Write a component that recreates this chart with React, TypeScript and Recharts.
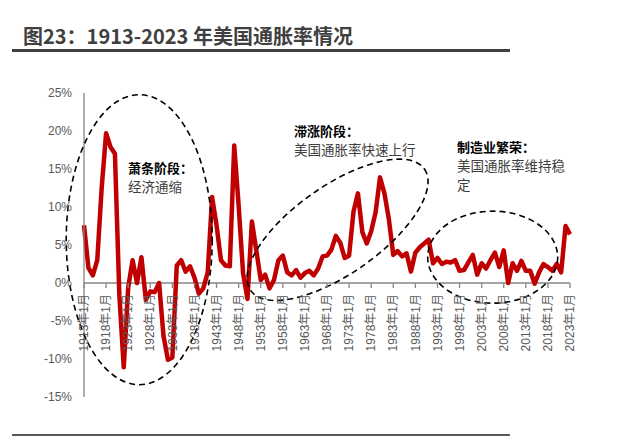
import { Line, LineChart, ReferenceDot, ReferenceLine, XAxis, YAxis } from "recharts";

// January year-on-year CPI, 1913 … 2023 (%)
const START_YEAR = 1913;
const CPI_YOY = [
	7.6, 2.0, 1.0, 3.0, 12.5, 19.7, 17.9, 17.0, -1.6, -11.1, // 1913-1922
	-0.6, 3.0, 0.0, 3.4, -2.2, -1.1, -1.2, 0.0, -7.0, -10.1, // 1923-1932
	-9.8, 2.3, 3.0, 1.5, 2.2, 0.7, -1.4, -0.7, 1.4, 11.3, // 1933-1942
	7.6, 3.0, 2.3, 2.2, 18.1, 10.2, 1.3, -2.1, 8.1, 4.3, // 1943-1952
	0.4, 1.1, -0.7, 0.4, 3.0, 3.6, 1.4, 1.0, 1.7, 0.7, // 1953-1962
	1.3, 1.6, 1.0, 1.9, 3.5, 3.6, 4.4, 6.2, 5.3, 3.3, // 1963-1972
	3.6, 9.4, 11.8, 6.7, 5.2, 6.8, 9.3, 13.9, 11.8, 8.4, // 1973-1982
	3.7, 4.2, 3.5, 3.9, 1.5, 4.0, 4.7, 5.2, 5.7, 2.6, // 1983-1992
	3.3, 2.5, 2.8, 2.7, 3.0, 1.6, 1.7, 2.7, 3.7, 1.1, // 1993-2002
	2.6, 1.9, 3.0, 4.0, 2.1, 4.3, 0.0, 2.6, 1.6, 2.9, // 2003-2012
	1.6, 1.6, -0.1, 1.4, 2.5, 2.1, 1.6, 2.5, 1.4, 7.5, // 2013-2022
	6.4, // 2023
];

const TICK_YEARS = [1913, 1918, 1923, 1928, 1933, 1938, 1943, 1948, 1953, 1958, 1963, 1968, 1973, 1978, 1983, 1988, 1993, 1998, 2003, 2008, 2013, 2018, 2023];
const Y_TICKS = [-15, -10, -5, 0, 5, 10, 15, 20, 25];

// dashed ellipses around the three phases: centre (year, %), radii px, rotation deg
const PHASE_ELLIPSES = [
	{ year: 1925.5, value: 5.7, rx: 73, ry: 145, rot: 0 },
	{ year: 1970.4, value: 7.0, rx: 106, ry: 44, rot: -35 },
	{ year: 2005.5, value: 3.4, rx: 65, ry: 46, rot: 0 },
];

const data = CPI_YOY.map((v, i) => ({ year: START_YEAR + i, cpi: v }));

const W = 623;
const H = 438;
const PLOT_TOP = 93;
const PLOT_BOTTOM = 397;
const Y_MIN = -15;
const Y_MAX = 25;
const CJK = '"Noto Sans CJK SC", "Noto Sans", sans-serif';
const AXIS_FONT = '"Liberation Sans", "Noto Sans CJK SC", sans-serif';

// x labels sit under the 0% line, not at the bottom of the plot
function XTick(props: any) {
	const { x, y, payload } = props;
	const zeroY = y - ((PLOT_BOTTOM - PLOT_TOP) * (0 - Y_MIN)) / (Y_MAX - Y_MIN);
	const ty = zeroY + 11;
	return (
		<g>
			<line x1={x} x2={x} y1={zeroY} y2={zeroY + 5} stroke="#868686" strokeWidth={1.3} />
			<text
				x={x}
				y={ty}
				transform={`rotate(-90 ${x} ${ty})`}
				textAnchor="end"
				dy="0.35em"
				fontSize={12}
				fill="#595959"
				fontFamily={AXIS_FONT}
			>
				{`${payload.value}年1月`}
			</text>
		</g>
	);
}

const note: React.CSSProperties = { position: "absolute", fontFamily: CJK, lineHeight: "19px", whiteSpace: "nowrap" };
const head: React.CSSProperties = { fontWeight: 700, fontSize: 13, color: "#000" };
const body: React.CSSProperties = { fontWeight: 400, fontSize: 13.5, color: "#404040" };

export default function App() {
	return (
		<div style={{ position: "absolute", left: 0, top: 0, width: W, height: H, background: "#fff", overflow: "hidden" }}>
			<div
				style={{
					position: "absolute",
					left: 23,
					top: 24,
					fontFamily: CJK,
					fontWeight: 700,
					fontSize: 20,
					lineHeight: "24px",
					color: "#404040",
					whiteSpace: "nowrap",
				}}
			>
				图23：1913-2023 年美国通胀率情况
			</div>
			<div style={{ position: "absolute", left: 12, top: 49, width: 498, height: 3, background: "#404040" }} />

			<LineChart width={W} height={H} data={data} margin={{ top: PLOT_TOP, right: 53, bottom: 40, left: 0 }}>
				<XAxis
					type="number"
					dataKey="year"
					domain={[1913, 2023]}
					ticks={TICK_YEARS}
					interval={0}
					height={1}
					axisLine={false}
					tickLine={false}
					tickSize={0}
					tickMargin={0}
					tick={<XTick />}
				/>
				<YAxis
					domain={[Y_MIN, Y_MAX]}
					ticks={Y_TICKS}
					interval={0}
					width={84}
					tickFormatter={(v: number) => `${v}%`}
					axisLine={{ stroke: "#868686", strokeWidth: 1.3 }}
					tickLine={false}
					tickSize={0}
					tickMargin={12}
					tick={{ fontSize: 12, fill: "#595959", fontFamily: AXIS_FONT }}
				/>
				<ReferenceLine y={0} stroke="#868686" strokeWidth={1.5} />
				<Line
					type="linear"
					dataKey="cpi"
					stroke="#c00000"
					strokeWidth={4.5}
					strokeLinejoin="round"
					dot={false}
					isAnimationActive={false}
				/>
				{PHASE_ELLIPSES.map((e, i) => (
					<ReferenceDot
						key={i}
						x={e.year}
						y={e.value}
						ifOverflow="visible"
						shape={(p: any) => (
							<ellipse
								cx={p.cx}
								cy={p.cy}
								rx={e.rx}
								ry={e.ry}
								transform={`rotate(${e.rot} ${p.cx} ${p.cy})`}
								fill="none"
								stroke="#000"
								strokeWidth={1.6}
								strokeDasharray="6 4"
							/>
						)}
					/>
				))}
			</LineChart>

			<div style={{ ...note, left: 128, top: 158 }}>
				<div style={head}>萧条阶段：</div>
				<div style={body}>经济通缩</div>
			</div>
			<div style={{ ...note, left: 294, top: 121 }}>
				<div style={head}>滞涨阶段：</div>
				<div style={body}>美国通胀率快速上行</div>
			</div>
			<div style={{ ...note, left: 457, top: 137 }}>
				<div style={head}>制造业繁荣：</div>
				<div style={body}>美国通胀率维持稳</div>
				<div style={body}>定</div>
			</div>

			<div style={{ position: "absolute", left: 12, top: 434, width: 498, height: 2, background: "#595959" }} />
		</div>
	);
}
